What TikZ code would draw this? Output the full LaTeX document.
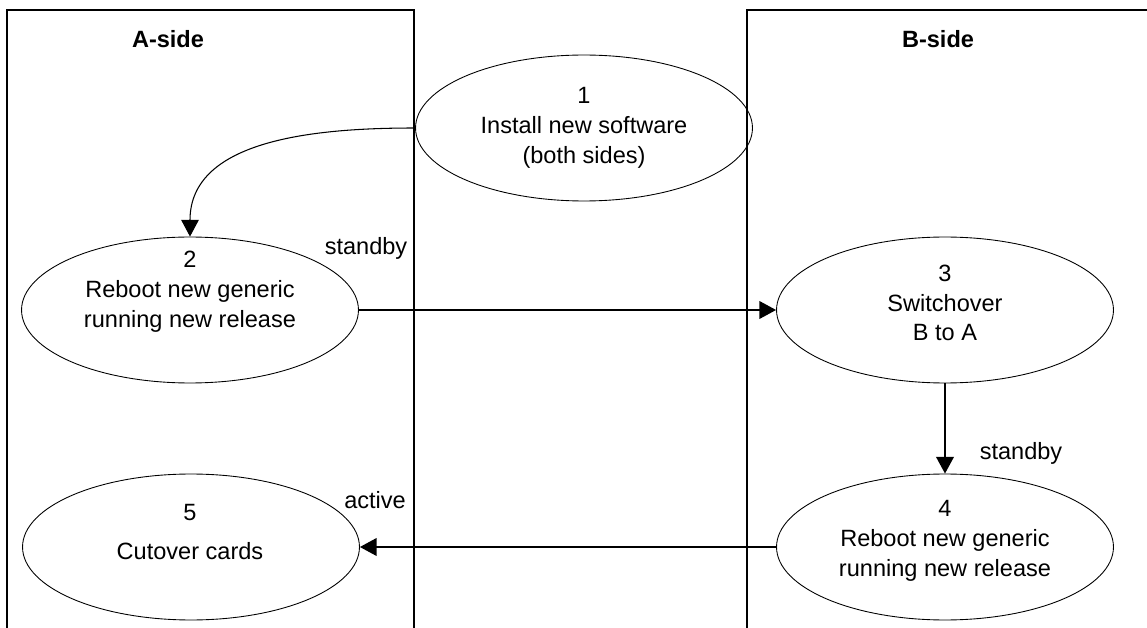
\documentclass[tikz,border=0pt]{standalone}
\usepackage{fontspec}
\setmainfont{Liberation Sans}
\usetikzlibrary{positioning, arrows.meta, shapes.geometric, calc}

\begin{document}
\begin{tikzpicture}[
    x=0.02cm, y=-0.02cm,
    >={Triangle[length=9.5pt, width=10pt]},
    font=\fontsize{13.4}{17}\selectfont,
    node_step/.style={ellipse, draw=black, line width=0.5pt, minimum width=6.74cm, minimum height=2.92cm, inner sep=0pt},
    node_text/.style={align=center, inner sep=0pt},
    side_line/.style={line width=1.1pt},
    flow/.style={->, line width=1.1pt}
]
\useasboundingbox (0,0) rectangle (1147,628);
% the two sides
\draw[side_line] (7,628) -- (7,10) -- (414,10) -- (414,628);
\draw[side_line] (747,628) -- (747,10) -- (1147,10);
\node[font=\fontsize{13.4}{17}\selectfont\bfseries] (sideA) at (168,39) {A-side};
\node[font=\fontsize{13.4}{17}\selectfont\bfseries] (sideB) at (938,39) {B-side};
% steps
\node[node_step] (n1) at (584,128) {};
\node[node_step] (n2) at (190,310) {};
\node[node_step] (n3) at (945,310) {};
\node[node_step] (n4) at (945,547) {};
\node[node_step] (n5) at (191,547) {};
\node[node_text] (t1) at (584,128) {1\\Install new software\\(both sides)};
\node[node_text] (t2) at (190,292) {2\\Reboot new generic\\running new release};
\node[node_text] (t3) at (945,303) {3\\Switchover\\B to A};
\node[node_text] (t4) at (945,541) {4\\Reboot new generic\\running new release};
\node[node_text] (t5) at (190,532) {5\\[5pt]Cutover cards};
% transitions
\draw[->, line width=0.6pt] (n1.west) to[out=180, in=90] (n2.north);
\draw[flow] (n2.east) -- (n3.west);
\draw[flow] (n3.south) -- (n4.north);
\draw[flow] (n4.west) -- (n5.east);
\node (lblStandbyA) at (366,248) {standby};
\node (lblStandbyB) at (1021,453) {standby};
\node (lblActive) at (375,500) {active};
\end{tikzpicture}
\end{document}
